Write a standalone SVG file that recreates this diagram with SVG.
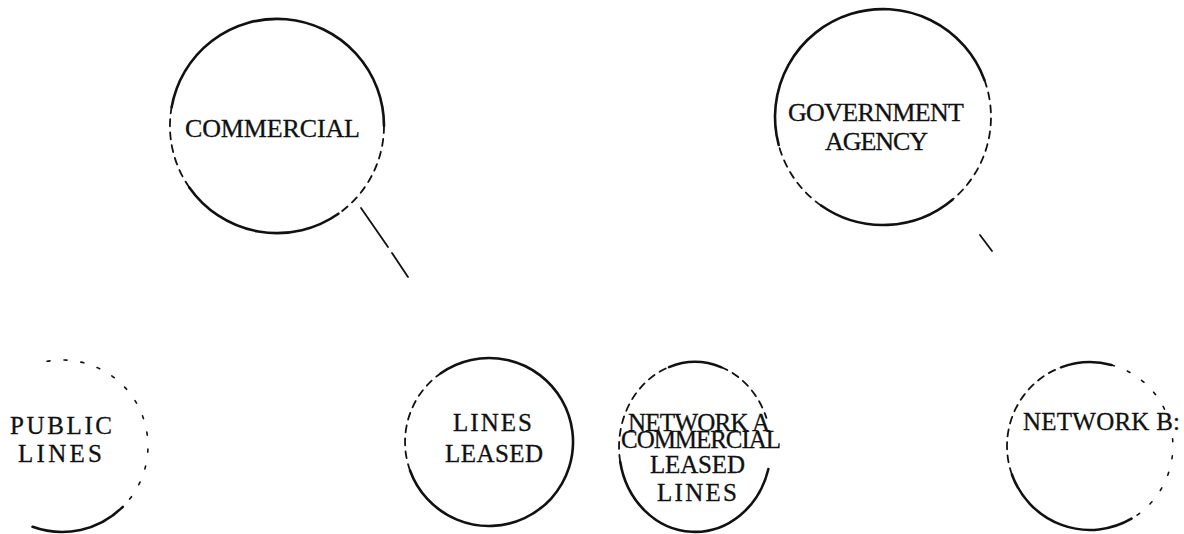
<svg xmlns="http://www.w3.org/2000/svg" width="1184" height="534" viewBox="0 0 1184 534">
  <style>
    .ring { fill: none; stroke: #111; stroke-width: 2.6; stroke-linecap: round; }
    .broken { fill: none; stroke: #111; stroke-width: 1.8; stroke-dasharray: 7 6; stroke-linecap: round; }
    .sparse { fill: none; stroke: #111; stroke-width: 1.6; stroke-dasharray: 3 14; stroke-linecap: round; }
    .link { fill: none; stroke: #111; stroke-width: 1.8; stroke-linecap: round; }
    .label { font-family: "Liberation Serif", "DejaVu Serif", serif; font-size: 25px; fill: #111; stroke: #111; stroke-width: 0.3; }
    .big { font-size: 26px; }
  </style>
  <rect width="1184" height="534" fill="#fff"/>

  <!-- connectors -->
  <g id="connectors">
    <path class="link" d="M361,208 L388,247"/>
    <path class="link" d="M392,253 L408,277"/>
    <path class="link" d="M980,235 L992,251"/>
  </g>

  <g id="commercial">
    <path class="ring" d="M171.6,107.4 A107,107 0 0 1 384,126"/>
    <path class="broken" d="M384,126 A107,107 0 0 1 338.4,213.7"/>
    <path class="ring" d="M338.4,213.7 A107,107 0 0 1 189.3,187.4"/>
    <path class="broken" d="M189.3,187.4 A107,107 0 0 1 171.6,107.4"/>
    <text class="label big" x="185" y="137" textLength="175" lengthAdjust="spacing">COMMERCIAL</text>
  </g>

  <g id="government-agency">
    <path class="ring" d="M778.7,145 A108,108 0 0 1 984.5,80.1"/>
    <path class="broken" d="M984.5,80.1 A108,108 0 0 1 952.4,199.7"/>
    <path class="ring" d="M952.4,199.7 A108,108 0 0 1 821.1,205.5"/>
    <path class="broken" d="M821.1,205.5 A108,108 0 0 1 778.7,145"/>
    <text class="label big" x="788" y="121" textLength="176" lengthAdjust="spacing">GOVERNMENT</text>
    <text class="label big" x="825" y="150" textLength="103" lengthAdjust="spacing">AGENCY</text>
  </g>

  <g id="public-lines">
    <path class="sparse" d="M47.1,361.3 A86,86 0 0 1 122.8,506.8"/>
    <path class="ring" d="M122.8,506.8 A86,86 0 0 1 32.6,526.8"/>
    <text class="label" x="10" y="434" textLength="102" lengthAdjust="spacing">PUBLIC</text>
    <text class="label" x="18" y="462" textLength="84" lengthAdjust="spacing">LINES</text>
  </g>

  <g id="lines-leased">
    <path class="ring" d="M440.8,373.2 A84,84 0 1 1 410.1,470.7"/>
    <path class="broken" d="M410.1,470.7 A84,84 0 0 1 440.8,373.2"/>
    <text class="label" x="453" y="431" textLength="79" lengthAdjust="spacing">LINES</text>
    <text class="label" x="445" y="462" textLength="98" lengthAdjust="spacing">LEASED</text>
  </g>

  <g id="network-a">
    <path class="ring" d="M669,367.1 A76,85 0 0 1 721,367.1"/>
    <path class="broken" d="M721,367.1 A76,85 0 0 1 766.4,417.9"/>
    <path class="ring" d="M768.4,469 A76,85 0 0 1 620.2,461.8"/>
    <path class="broken" d="M620.2,461.8 A76,85 0 0 1 669,367.1"/>
    <text class="label" x="628" y="431" textLength="142" lengthAdjust="spacing">NETWORK A</text>
    <text class="label" x="621" y="448" textLength="160" lengthAdjust="spacing">COMMERCIAL</text>
    <text class="label" x="650" y="473" textLength="95" lengthAdjust="spacing">LEASED</text>
    <text class="label" x="657" y="501" textLength="80" lengthAdjust="spacing">LINES</text>
  </g>

  <g id="network-b">
    <path class="ring" d="M1061.6,367.1 A83,84 0 0 1 1111.5,364.9"/>
    <path class="sparse" d="M1111.5,364.9 A83,84 0 0 1 1131.5,518.7"/>
    <path class="ring" d="M1131.5,518.7 A83,84 0 0 1 1012,474.7"/>
    <path class="broken" d="M1012,474.7 A83,84 0 0 1 1061.6,367.1"/>
    <text class="label" x="1023" y="430" textLength="157" lengthAdjust="spacing">NETWORK B:</text>
  </g>
</svg>
